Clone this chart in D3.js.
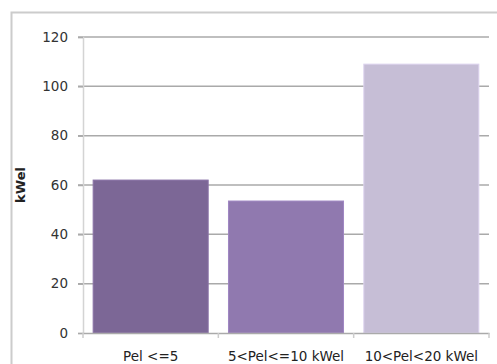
<!DOCTYPE html>
<html><head><meta charset="utf-8">
<script src="https://cdn.jsdelivr.net/npm/d3@7"></script>
<style>body{margin:0;background:#fff}svg{display:block}</style>
</head><body>
<script>
const categories = ["Pel <=5", "5<Pel<=10 kWel", "10<Pel<20 kWel"];
const values = [62, 53.5, 109];
const colors = ["#7c6796", "#9079af", "#c6bed6"];
const yTicks = [0, 20, 40, 60, 80, 100, 120];
const yLabel = "kWel";

const W = 497, H = 364;
const svg = d3.select("body").append("svg").attr("width", W).attr("height", H);
const font = "DejaVu Sans, Verdana, sans-serif";

// outer frame
svg.append("path").attr("d", `M11.5,${H} V12.5 H${W}`).attr("fill","none")
  .attr("stroke","#cccccc").attr("stroke-width",2);

const x0 = 83, x1 = 489, y0 = 333, y1 = 37;
const x = d3.scaleBand().domain(categories).range([x0, x1]).paddingInner(0.15).paddingOuter(0.075);
const y = d3.scaleLinear().domain([0, 120]).range([y0, y1]);

// gridlines
svg.append("g").selectAll("line").data(yTicks.filter(d=>d>0)).join("line")
  .attr("x1", x0-5).attr("x2", x1).attr("y1", d=>y(d)).attr("y2", d=>y(d))
  .attr("stroke","#aaaaaa").attr("stroke-width",1.5);

// y axis
const ya = svg.append("g").attr("transform", `translate(${x0},0)`)
  .call(d3.axisLeft(y).tickValues(yTicks).tickSize(5).tickPadding(10));
ya.select(".domain").attr("stroke","#d4d4d4").attr("stroke-width",1.5);
ya.selectAll(".tick line").attr("stroke","#aaaaaa").attr("stroke-width",1.5);
ya.selectAll("text").attr("font-family",font).attr("font-size",13.5).attr("fill","#333");

// bars
svg.append("g").selectAll("rect").data(values).join("rect")
  .attr("x",(d,i)=>x(categories[i])).attr("width",x.bandwidth())
  .attr("y",d=>y(d)).attr("height",d=>y(0)-y(d))
  .attr("fill",(d,i)=>colors[i])
  .attr("stroke",(d,i)=>d3.color(colors[i]).brighter(0.3)).attr("stroke-width",1);

// x axis
const xa = svg.append("g").attr("transform", `translate(0,${y0})`)
  .call(d3.axisBottom(x).tickSize(0).tickPadding(18));
xa.select(".domain").attr("stroke","#aaaaaa").attr("stroke-width",1.5);
xa.selectAll("text").attr("font-family",font).attr("font-size",13.5).attr("fill","#222");
// category boundary ticks
const bounds = [x0, ...categories.map(c => x(c) + x.bandwidth() + x.step()*x.paddingInner()/2)];
bounds[bounds.length-1] = x1;
svg.append("g").selectAll("line").data(bounds).join("line")
  .attr("x1",d=>d).attr("x2",d=>d).attr("y1",y0).attr("y2",y0+5)
  .attr("stroke","#cccccc").attr("stroke-width",1.5);

// y label
svg.append("text").attr("transform",`translate(25,185) rotate(-90)`)
  .attr("text-anchor","middle").attr("font-family",font).attr("font-size",13)
  .attr("font-weight","bold").attr("fill","#222").text(yLabel);
</script>
</body></html>
